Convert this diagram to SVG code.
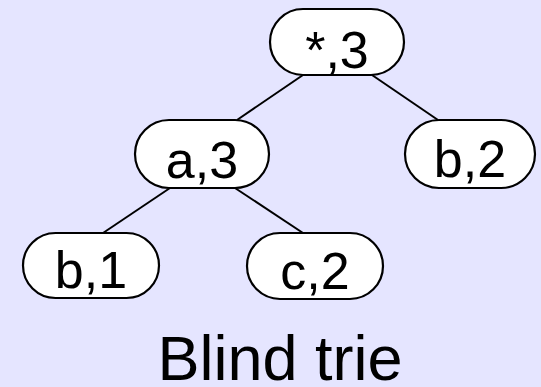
<svg xmlns="http://www.w3.org/2000/svg" width="541" height="387" viewBox="0 0 541 387">
<style>
.node rect{fill:#fff;stroke:#000;stroke-width:2.2}
.node text{font-family:"Liberation Sans",Arial,sans-serif;font-size:52px;text-anchor:middle;fill:#000}
.edges line{stroke:#000;stroke-width:2}
.title{font-family:"Liberation Sans",Arial,sans-serif;font-size:63px;text-anchor:middle;fill:#000}
</style>
<rect width="541" height="387" fill="#e5e5ff"/>
<g class="edges">
<line x1="303" y1="75" x2="237" y2="120"/>
<line x1="372" y1="75" x2="438" y2="120"/>
<line x1="170" y1="188" x2="103" y2="233"/>
<line x1="235" y1="188" x2="303" y2="233"/>
</g>
<g id="n_root" class="node"><rect x="270" y="9" width="134" height="66" rx="33"/><text x="337" y="68">*,3</text></g>
<g id="n_a3" class="node"><rect x="135" y="120" width="134" height="68" rx="34"/><text x="202" y="178">a,3</text></g>
<g id="n_b2" class="node"><rect x="405" y="120" width="130" height="68" rx="34"/><text x="470" y="177">b,2</text></g>
<g id="n_b1" class="node"><rect x="23" y="233" width="136" height="65" rx="32.5"/><text x="91" y="288">b,1</text></g>
<g id="n_c2" class="node"><rect x="247" y="233" width="136" height="66" rx="33"/><text x="315" y="289">c,2</text></g>
<text class="title" x="280" y="380">Blind trie</text>
</svg>
